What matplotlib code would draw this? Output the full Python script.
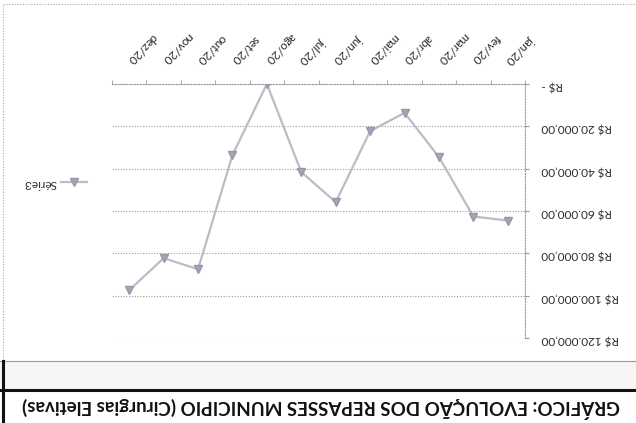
import matplotlib
matplotlib.use("Agg")
import matplotlib.pyplot as plt
from matplotlib.lines import Line2D

plt.rcParams['font.family'] = ['Lato', 'DejaVu Sans']

# dados
meses = ['jan/20', 'fev/20', 'mar/20', 'abr/20', 'mai/20', 'jun/20',
         'jul/20', 'ago/20', 'set/20', 'out/20', 'nov/20', 'dez/20']
valores = [64500, 62600, 34500, 13600, 22300, 55800,
           41600, 0, 33600, 87500, 82300, 97400]
yticks = [0, 20000, 40000, 60000, 80000, 100000, 120000]
ylabels = ['R$ -', 'R$ 20.000,00', 'R$ 40.000,00', 'R$ 60.000,00',
           'R$ 80.000,00', 'R$ 100.000,00', 'R$ 120.000,00']
serie_nome = 'Série3'
titulo = 'GRÁFICO: EVOLUÇÃO DOS REPASSES MUNICIPIO (Cirurgias Eletivas)'

W, H = 636, 423
fig = plt.figure(figsize=(W / 100, H / 100), dpi=100)
fig.patch.set_facecolor('white')

# imagem de cabeça para baixo: eixos invertidos e textos a 180 graus
ax = fig.add_axes([112 / W, 1 - 338 / H, (525 - 112) / W, (338 - 84) / H])
x = list(range(len(meses)))
ax.plot(x, valores, color='#c2b8c8', lw=1.6, marker='v', markersize=6,
        markerfacecolor='#aaa3b6', markeredgecolor='#9c95a8', label=serie_nome)

ax.set_xlim(len(meses) - 0.5, -0.5)
ax.set_ylim(120000, 0)

ax.yaxis.tick_right()
ax.set_yticks(yticks)
ax.set_yticklabels(ylabels, rotation=180, fontsize=8.5, color='#2a2a2a')
ax.tick_params(axis='y', length=3, color='#999999', pad=9)
ax.grid(axis='y', color='#9a9a9a', linestyle=(0, (1, 1.5)), lw=0.8)

ax.xaxis.tick_top()
ax.set_xticks(x)
ax.set_xticklabels(meses, rotation=225, ha='right', va='center',
                   rotation_mode='anchor', fontsize=8.5, color='#2a2a2a')
ax.set_xticks([i + 0.5 for i in range(-1, len(meses))], minor=True)
ax.tick_params(axis='x', which='major', length=0, pad=16)
ax.tick_params(axis='x', which='minor', length=3, color='#999999')

for s in ['left', 'bottom']:
    ax.spines[s].set_visible(False)
for s in ['top', 'right']:
    ax.spines[s].set_color('#9a9a9a')
    ax.spines[s].set_linestyle((0, (1, 1.5)))
    ax.spines[s].set_linewidth(0.8)

leg = ax.legend(loc='center', bbox_to_anchor=(55 / W, 1 - 183 / H),
                bbox_transform=fig.transFigure, frameon=False,
                markerfirst=False, fontsize=8.5, handlelength=2.2,
                handletextpad=0.4)
for t in leg.get_texts():
    t.set_rotation(180)
    t.set_color('#2a2a2a')

# moldura e faixa do título
fig.add_artist(Line2D([3 / W, 3 / W], [0.0, 1 - 4 / H], transform=fig.transFigure,
                      color='#aaaaaa', lw=0.8, linestyle=(0, (1, 1.5))))
fig.add_artist(Line2D([3 / W, 1.0], [1 - 4 / H, 1 - 4 / H], transform=fig.transFigure,
                      color='#aaaaaa', lw=0.8, linestyle=(0, (1, 1.5))))
fig.add_artist(plt.Rectangle((0, 1 - 390 / H), 1, (390 - 361) / H,
                             transform=fig.transFigure, color='#f6f6f6', zorder=0))
fig.add_artist(Line2D([0, 1], [1 - 361 / H, 1 - 361 / H], transform=fig.transFigure,
                      color='#9a9a9a', lw=0.8))
fig.add_artist(Line2D([0, 1], [1 - 390 / H, 1 - 390 / H], transform=fig.transFigure,
                      color='#111111', lw=2.2))
fig.add_artist(Line2D([3 / W, 3 / W], [0, 1 - 361 / H], transform=fig.transFigure,
                      color='#111111', lw=2.2))
fig.text(321 / W, 1 - 408 / H, titulo, rotation=180, ha='center', va='center',
         fontsize=13.5, fontweight='bold', color='#111111')

fig.savefig('out.png', dpi=100)
